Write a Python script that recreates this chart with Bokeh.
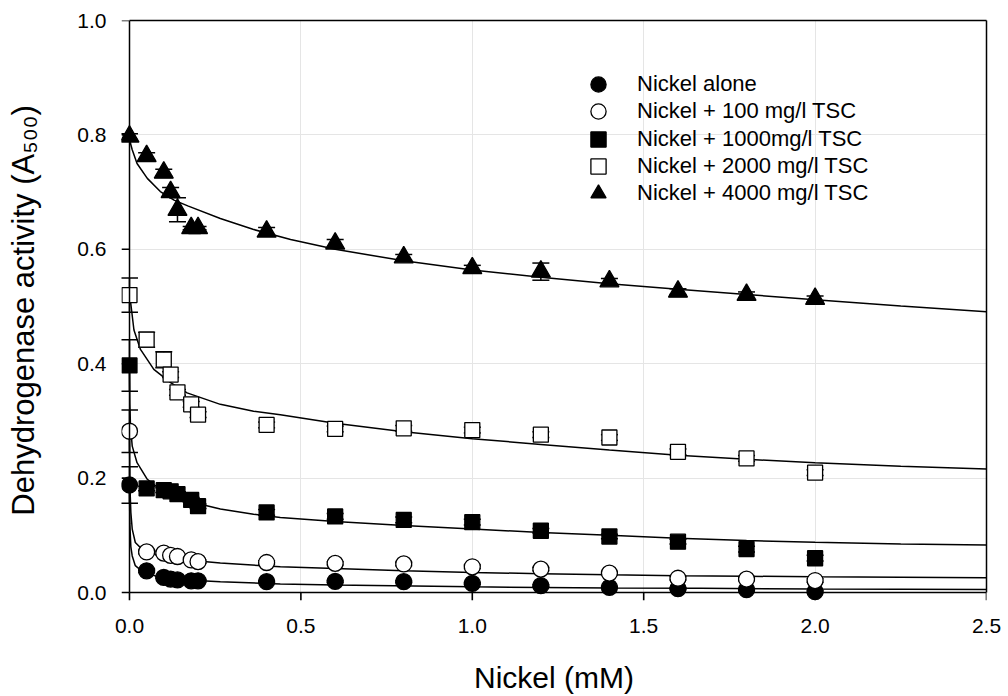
from bokeh.plotting import figure
from bokeh.models import (Range1d, FixedTicker, PrintfTickFormatter, Legend, LegendItem,
                          ColumnDataSource, Whisker, TeeHead, LinearAxis)
from bokeh.embed import file_html
from bokeh.resources import INLINE

# ---------------- data ----------------
nickel_mM = [0, 0.05, 0.1, 0.12, 0.14, 0.18, 0.2, 0.4, 0.6, 0.8, 1.0, 1.2, 1.4, 1.6, 1.8, 2.0]

alone      = [0.188, 0.038, 0.0265, 0.0235, 0.022, 0.0205, 0.0205, 0.019, 0.0195, 0.019, 0.016, 0.012, 0.009, 0.007, 0.005, 0.0015]
alone_err  = [0.032, 0.003, 0.002, 0.002, 0.002, 0.002, 0.002, 0.002, 0.002, 0.002, 0.002, 0.002, 0.002, 0.002, 0.002, 0.002]

tsc100     = [0.282, 0.071, 0.069, 0.065, 0.063, 0.057, 0.054, 0.0525, 0.051, 0.050, 0.045, 0.041, 0.034, 0.025, 0.0235, 0.021]
tsc100_err = [0.037, 0.003, 0.003, 0.003, 0.003, 0.003, 0.003, 0.003, 0.003, 0.003, 0.003, 0.003, 0.003, 0.003, 0.003, 0.003]

tsc1000     = [0.397, 0.182, 0.179, 0.177, 0.172, 0.162, 0.151, 0.140, 0.133, 0.127, 0.123, 0.108, 0.098, 0.089, 0.076, 0.060]
tsc1000_err = [0.045, 0.004, 0.004, 0.004, 0.004, 0.004, 0.004, 0.005, 0.005, 0.005, 0.005, 0.004, 0.004, 0.004, 0.005, 0.005]

tsc2000     = [0.520, 0.442, 0.407, 0.381, 0.350, 0.329, 0.311, 0.293, 0.286, 0.287, 0.284, 0.276, 0.271, 0.246, 0.2345, 0.2095]
tsc2000_err = [0.030, 0.013, 0.014, 0.005, 0.005, 0.005, 0.005, 0.005, 0.005, 0.005, 0.005, 0.005, 0.005, 0.005, 0.005, 0.005]

tsc4000     = [0.797, 0.763, 0.734, 0.700, 0.669, 0.637, 0.637, 0.631, 0.610, 0.586, 0.567, 0.561, 0.544, 0.526, 0.5205, 0.5135]
tsc4000_err = [0.005, 0.006, 0.006, 0.008, 0.021, 0.003, 0.003, 0.007, 0.007, 0.005, 0.005, 0.015, 0.005, 0.005, 0.005, 0.005]

# fitted curves
fit_alone_x = [0, 0.001, 0.004, 0.008, 0.017, 0.041, 0.09, 0.168, 0.265, 0.44, 0.6, 1.0, 1.4, 1.666, 2.0, 2.5]
fit_alone_y = [0.188, 0.12, 0.08, 0.064, 0.047, 0.035, 0.0265, 0.022, 0.019, 0.015, 0.013, 0.010, 0.008, 0.0073, 0.006, 0.0055]

fit_100_x = [0, 0.001, 0.004, 0.008, 0.017, 0.041, 0.09, 0.168, 0.265, 0.44, 0.6, 0.8, 1.0, 1.2, 1.4, 1.6, 1.8, 2.0, 2.25, 2.5]
fit_100_y = [0.282, 0.19, 0.14, 0.111, 0.0875, 0.073, 0.064, 0.0567, 0.0515, 0.045, 0.042, 0.038, 0.035, 0.033, 0.031, 0.0295, 0.0285, 0.0276, 0.0268, 0.026]

fit_1000_x = [0, 0.001, 0.003, 0.008, 0.022, 0.052, 0.09, 0.168, 0.265, 0.362, 0.44, 0.6, 0.8, 1.0, 1.2, 1.4, 1.6, 1.8, 2.0, 2.25, 2.5]
fit_1000_y = [0.397, 0.33, 0.29, 0.256, 0.227, 0.198, 0.180, 0.160, 0.146, 0.137, 0.131, 0.124, 0.117, 0.111, 0.105, 0.100, 0.095, 0.091, 0.088, 0.085, 0.083]

fit_2000_x = [0, 0.003, 0.013, 0.032, 0.071, 0.12, 0.168, 0.265, 0.362, 0.44, 0.6, 0.8, 1.0, 1.2, 1.4, 1.6, 1.8, 2.0, 2.25, 2.5]
fit_2000_y = [0.520, 0.509, 0.459, 0.425, 0.390, 0.367, 0.349, 0.329, 0.317, 0.311, 0.296, 0.281, 0.269, 0.259, 0.249, 0.240, 0.233, 0.227, 0.221, 0.216]

fit_4000_x = [0, 0.003, 0.008, 0.022, 0.052, 0.09, 0.13, 0.17, 0.265, 0.36, 0.47, 0.6, 0.8, 1.0, 1.2, 1.4, 1.6, 1.8, 2.0, 2.25, 2.5]
fit_4000_y = [0.798, 0.785, 0.774, 0.750, 0.724, 0.701, 0.686, 0.676, 0.654, 0.635, 0.617, 0.600, 0.580, 0.564, 0.551, 0.540, 0.530, 0.521, 0.512, 0.501, 0.491]

labels = ["Nickel alone", "Nickel + 100 mg/l TSC", "Nickel + 1000mg/l TSC",
          "Nickel + 2000 mg/l TSC", "Nickel + 4000 mg/l TSC"]
x_ticks = [0.0, 0.5, 1.0, 1.5, 2.0, 2.5]
y_ticks = [0.0, 0.2, 0.4, 0.6, 0.8, 1.0]

FONT = "Liberation Sans"

# the ranges start one tick-length before 0, so markers sitting on the axes are not cut
X_PAD = -0.0233   # 8 px
Y_PAD = -0.0139   # 8 px
p = figure(width=1008, height=696, output_backend="svg", toolbar_location=None,
           x_range=Range1d(X_PAD, 2.5), y_range=Range1d(Y_PAD, 1.0),
           x_axis_location=None, y_axis_location=None,
           min_border_left=121, min_border_right=22, min_border_top=20, min_border_bottom=94)
p.outline_line_color = None
p.background_fill_color = "white"
p.border_fill_color = "white"

# 1) axis lines at x = 0 and y = 0
xline = LinearAxis(fixed_location=0, bounds=(0, 2.5), ticker=FixedTicker(ticks=[]))
yline = LinearAxis(fixed_location=0, bounds=(0, 1.0), ticker=FixedTicker(ticks=[]))
for ax in (xline, yline):
    ax.axis_line_color = "black"
    ax.axis_line_width = 1.5
    ax.major_tick_line_color = None
    ax.major_tick_out = 0
    ax.major_tick_in = 0
    ax.minor_tick_line_color = None
    ax.major_label_text_alpha = 0
    ax.major_label_text_font_size = "0px"
    ax.major_label_standoff = 0
p.add_layout(xline, "below")
p.add_layout(yline, "left")

# outward tick marks (one tick length, hanging off the 0 lines)
p.segment(x0=x_ticks, y0=[0] * len(x_ticks), x1=x_ticks, y1=[Y_PAD] * len(x_ticks),
          line_color="black", line_width=1.6)
p.segment(x0=[0] * len(y_ticks), y0=y_ticks, x1=[X_PAD] * len(y_ticks), y1=y_ticks,
          line_color="black", line_width=1.6)

# 2) label axes (tick labels + titles only)
xa = LinearAxis(ticker=FixedTicker(ticks=x_ticks), formatter=PrintfTickFormatter(format="%.1f"),
                axis_label="Nickel (mM)")
ya = LinearAxis(ticker=FixedTicker(ticks=y_ticks), formatter=PrintfTickFormatter(format="%.1f"),
                axis_label="Dehydrogenase activity (A\u2085\u2080\u2080)")
for ax in (xa, ya):
    ax.axis_line_color = None
    ax.major_tick_line_color = None
    ax.minor_tick_line_color = None
    ax.major_tick_out = 0
    ax.major_tick_in = 0
    ax.major_label_text_font = FONT
    ax.major_label_text_font_size = "21px"
    ax.major_label_text_color = "black"
    ax.axis_label_text_font = FONT
    ax.axis_label_text_font_style = "normal"
    ax.axis_label_text_color = "black"
xa.axis_label_text_font_size = "30px"
ya.axis_label_text_font_size = "31px"
xa.major_label_standoff = 18
xa.axis_label_standoff = 25
ya.major_label_standoff = 15
ya.axis_label_standoff = 33
p.add_layout(xa, "below")
p.add_layout(ya, "left")

# 3) frame lines on top and right
top = LinearAxis(ticker=FixedTicker(ticks=[]), bounds=(0, 2.5), axis_line_width=1.5,
                 major_tick_line_color=None, minor_tick_line_color=None)
right = LinearAxis(ticker=FixedTicker(ticks=[]), bounds=(0, 1.0), axis_line_width=1.5,
                   major_tick_line_color=None, minor_tick_line_color=None)
p.add_layout(top, "above")
p.add_layout(right, "right")

# curves
for cx, cy in [(fit_alone_x, fit_alone_y), (fit_100_x, fit_100_y), (fit_1000_x, fit_1000_y),
               (fit_2000_x, fit_2000_y), (fit_4000_x, fit_4000_y)]:
    p.line(cx, cy, line_color="black", line_width=1.5)

series = [
    (alone, alone_err, "circle", 16, "black"),
    (tsc100, tsc100_err, "circle", 16, "white"),
    (tsc1000, tsc1000_err, "square", 15, "black"),
    (tsc2000, tsc2000_err, "square", 15, "white"),
    (tsc4000, tsc4000_err, "triangle", 19, "black"),
]

renderers = []
for vals, err, marker, size, fill in series:
    src = ColumnDataSource(dict(x=nickel_mM, y=vals,
                                lo=[v - e for v, e in zip(vals, err)],
                                hi=[v + e for v, e in zip(vals, err)]))
    w = Whisker(base="x", upper="hi", lower="lo", source=src, dimension="height",
                line_color="black", line_width=1.5,
                upper_head=TeeHead(size=17, line_color="black", line_width=1.5),
                lower_head=TeeHead(size=17, line_color="black", line_width=1.5))
    p.add_layout(w)
    r = p.scatter("x", "y", source=src, marker=marker, size=size, fill_color=fill,
                  line_color="black", line_width=1.3)
    renderers.append(r)

# one legend per entry so that the legend markers can be large while rows stay tight
row_pitch = 27.25
for i, (r, lab) in enumerate(zip(renderers, labels)):
    lg = Legend(items=[LegendItem(label=lab, renderers=[r])],
                location=(458, 497 - row_pitch * i))
    lg.label_text_font = FONT
    lg.label_text_font_size = "22px"
    lg.label_text_color = "black"
    lg.border_line_color = None
    lg.background_fill_alpha = 0
    lg.glyph_width = 38
    lg.glyph_height = 38
    lg.label_height = 38
    lg.spacing = 0
    lg.padding = 0
    lg.margin = 0
    lg.label_standoff = 20
    p.add_layout(lg)

open("out.html", "w").write(file_html(p, INLINE))
